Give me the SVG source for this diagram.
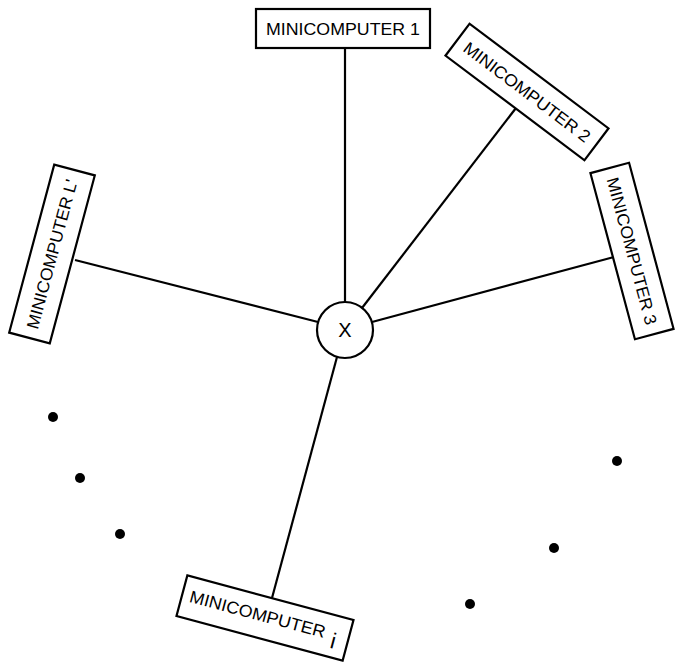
<svg xmlns="http://www.w3.org/2000/svg" width="677" height="662" viewBox="0 0 677 662">
<style>
.box{fill:#fff;stroke:#000;stroke-width:2.2}
.lbl{font-family:"Liberation Sans","DejaVu Sans",sans-serif;font-size:17px;fill:#000;text-anchor:middle}
.ln{stroke:#000;stroke-width:2.2;fill:none}
.dot{fill:#000}
</style>
<rect width="677" height="662" fill="#fff"/>
<g id="connectors">
<line class="ln" x1="345" y1="48" x2="345" y2="302"/>
<line class="ln" x1="362" y1="308" x2="516" y2="108"/>
<line class="ln" x1="372" y1="322" x2="614" y2="257"/>
<line class="ln" x1="75" y1="260" x2="318" y2="322"/>
<line class="ln" x1="337" y1="357" x2="272" y2="598"/>
</g>
<g id="hub">
<circle cx="345" cy="330" r="28" fill="#fff" stroke="#000" stroke-width="2.2"/>
<text class="lbl" x="345" y="337" style="font-size:20px">X</text>
</g>
<g id="mini1">
<rect class="box" x="256" y="9" width="174" height="39"/>
<text class="lbl" x="343" y="35" textLength="154" lengthAdjust="spacingAndGlyphs">MINICOMPUTER 1</text>
</g>
<g id="mini2" transform="translate(527,92) rotate(37)">
<rect class="box" x="-87" y="-20" width="174" height="40"/>
<text class="lbl" x="0" y="6" textLength="154" lengthAdjust="spacingAndGlyphs">MINICOMPUTER 2</text>
</g>
<g id="mini3" transform="translate(632,251) rotate(75)">
<rect class="box" x="-86" y="-20" width="172" height="40"/>
<text class="lbl" x="0" y="6" textLength="152" lengthAdjust="spacingAndGlyphs">MINICOMPUTER 3</text>
</g>
<g id="miniL" transform="translate(52,254) rotate(-75)">
<rect class="box" x="-87" y="-21" width="174" height="42"/>
<text class="lbl" x="0" y="6" textLength="154" lengthAdjust="spacingAndGlyphs">MINICOMPUTER L'</text>
</g>
<g id="minii" transform="translate(265,618) rotate(15)">
<rect class="box" x="-86" y="-21" width="172" height="42"/>
<text class="lbl" x="-8" y="4" textLength="140" lengthAdjust="spacingAndGlyphs">MINICOMPUTER</text>
<text class="lbl" x="72" y="12" style="font-size:22px">i</text>
</g>
<g id="dots">
<circle class="dot" cx="53" cy="417" r="5"/>
<circle class="dot" cx="80" cy="478" r="5"/>
<circle class="dot" cx="120" cy="534" r="5"/>
<circle class="dot" cx="617" cy="461" r="5"/>
<circle class="dot" cx="554" cy="548" r="5"/>
<circle class="dot" cx="470" cy="604" r="5"/>
</g>
</svg>
